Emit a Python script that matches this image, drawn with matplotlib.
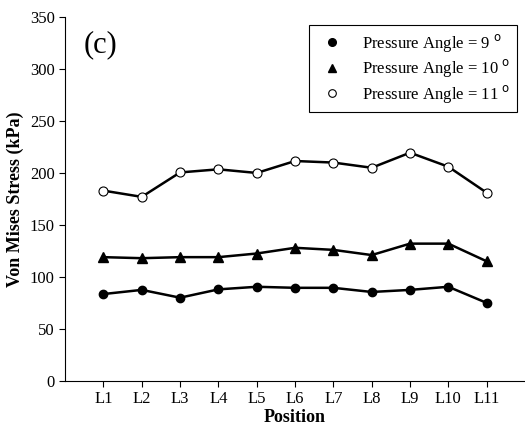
import numpy as np
import matplotlib
matplotlib.use("Agg")
import matplotlib.pyplot as plt

positions = ["L1", "L2", "L3", "L4", "L5", "L6", "L7", "L8", "L9", "L10", "L11"]
angle_9 = [83.5, 87.5, 80, 88, 90.5, 89.5, 89.5, 85.5, 87.5, 90.5, 75]
angle_10 = [119, 118, 119, 119, 122.5, 128, 126, 121, 132, 132, 115]
angle_11 = [183, 177, 200.5, 203.5, 200, 211.5, 210, 205, 219.5, 206, 181]

plt.rcParams['font.family'] = ['Liberation Serif', 'DejaVu Serif']

fig = plt.figure(figsize=(5.25, 4.26), dpi=100)
ax = fig.add_axes([0.124, 0.106, 0.876, 0.854])

x = np.arange(1, len(positions) + 1)
ax.plot(x, angle_9, color='black', lw=1.8, marker='o', ms=6, mfc='black', mec='black',
        label='Pressure Angle = 9 $^{\\rm o}$')
ax.plot(x, angle_10, color='black', lw=1.8, marker='^', ms=7, mfc='black', mec='black',
        label='Pressure Angle = 10 $^{\\rm o}$')
ax.plot(x, angle_11, color='black', lw=1.8, marker='o', ms=6.5, mfc='white', mec='black',
        mew=0.8, label='Pressure Angle = 11 $^{\\rm o}$')

ax.set_xlim(0, 12)
ax.set_ylim(0, 350)
ax.set_xticks(x)
ax.set_xticklabels(positions)
ax.set_yticks(np.arange(0, 351, 50))
ax.tick_params(labelsize=12, direction='out', length=4, colors='black')
for s in ('top', 'right'):
    ax.spines[s].set_visible(False)

ax.set_xlabel('Position', fontsize=13, fontweight='bold', labelpad=1)
ax.set_ylabel('Von Mises Stress (kPa)', fontsize=13, fontweight='bold', labelpad=4)
ax.text(0.04, 0.965, '(c)', transform=ax.transAxes, fontsize=22, va='top')

leg = ax.legend(loc='upper right', bbox_to_anchor=(0.983, 0.978), borderaxespad=0,
                fontsize=12, frameon=True, fancybox=False, edgecolor='black',
                framealpha=1, handlelength=2.0, handletextpad=0.8, borderpad=0.4,
                labelspacing=0.22)
leg.get_frame().set_linewidth(0.8)
for h in leg.get_lines():
    h.set_linestyle('none')
    h.set_markersize(5.5)

fig.savefig('out.png', dpi=100)
